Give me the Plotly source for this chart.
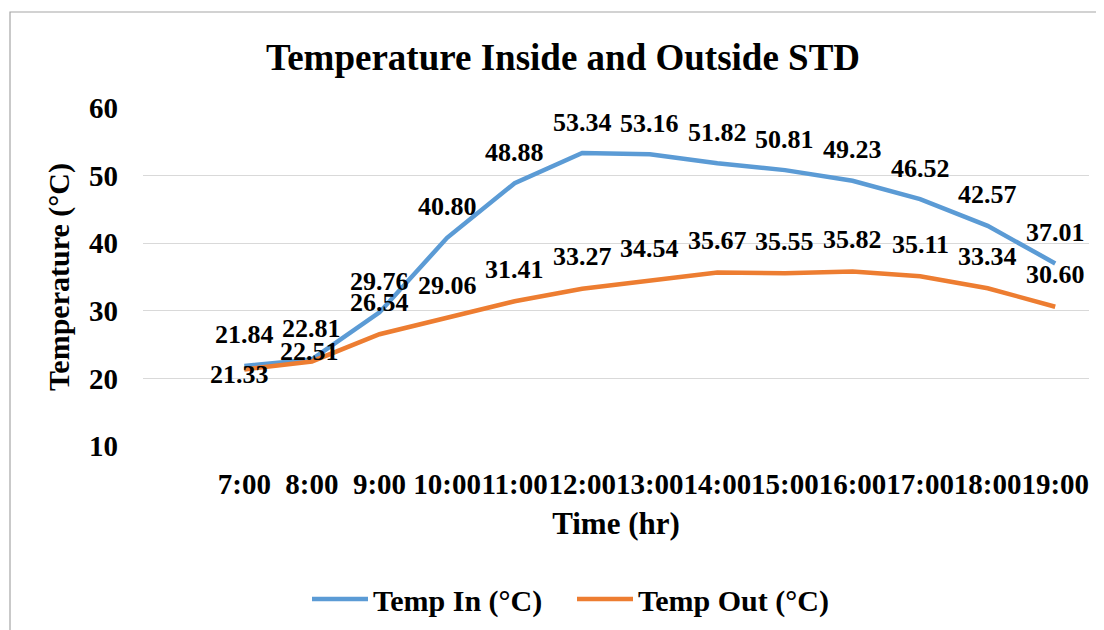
import plotly.graph_objects as go

times = ["7:00", "8:00", "9:00", "10:00", "11:00", "12:00", "13:00",
         "14:00", "15:00", "16:00", "17:00", "18:00", "19:00"]
temp_in = [21.84, 22.81, 29.76, 40.80, 48.88, 53.34, 53.16, 51.82, 50.81, 49.23, 46.52, 42.57, 37.01]
temp_out = [21.33, 22.51, 26.54, 29.06, 31.41, 33.27, 34.54, 35.67, 35.55, 35.82, 35.11, 33.34, 30.60]
y_ticks = [10, 20, 30, 40, 50, 60]

# category positions (first slot on the axis is empty in the original chart)
xpos = list(range(1, len(times) + 1))

FONT = "Liberation Serif, Times New Roman, serif"
BLUE = "#5B9BD5"
ORANGE = "#ED7D31"

# page has an 8px body margin; figure is sized to fill the rest of the window
W, H = 1096, 622
OFF = 8

fig = go.Figure()
fig.add_trace(go.Scatter(x=xpos, y=temp_in, mode="lines", name="Temp In (°C)",
                         line=dict(color=BLUE, width=4.5)))
fig.add_trace(go.Scatter(x=xpos, y=temp_out, mode="lines", name="Temp Out (°C)",
                         line=dict(color=ORANGE, width=4.5)))

annotations = []
for i, (xv, v) in enumerate(zip(xpos, temp_in)):
    annotations.append(dict(x=xv, y=v, xref="x", yref="y", text=f"{v:.2f}",
                            showarrow=False, yshift=31,
                            font=dict(family=FONT, size=26, color="black", weight="bold")))
out_shift = [-5, 10] + [32] * (len(temp_out) - 2)
out_xshift = [-5, -2] + [0] * (len(temp_out) - 2)
for i, (xv, v) in enumerate(zip(xpos, temp_out)):
    annotations.append(dict(x=xv, y=v, xref="x", yref="y", text=f"{v:.2f}",
                            showarrow=False, yshift=out_shift[i], xshift=out_xshift[i],
                            font=dict(family=FONT, size=26, color="black", weight="bold")))

fig.update_layout(
    width=W, height=H,
    margin=dict(l=143 - OFF, r=15, t=108 - OFF, b=184, autoexpand=False),
    paper_bgcolor="white", plot_bgcolor="white",
    font=dict(family=FONT, color="black"),
    title=dict(text="Temperature Inside and Outside STD", x=(563 - OFF) / W, xref="container",
               y=1 - (57 - OFF) / H, yref="container", xanchor="center", yanchor="middle",
               font=dict(family=FONT, size=37, color="black", weight="bold")),
    showlegend=True,
    legend=dict(orientation="h", x=(307 - 143) / 946, xanchor="left",
                y=-0.453, yanchor="middle",
                font=dict(family=FONT, size=30, color="black", weight="bold"),
                itemwidth=56, tracegroupgap=0, entrywidth=194),
    annotations=annotations,
    shapes=[dict(type="rect", xref="paper", yref="paper",
                 x0=(10 - 143) / 946, x1=(1102 - 143) / 946,
                 y0=(446 - 640) / 338, y1=(446 - 12) / 338,
                 line=dict(color="#A6A6A6", width=1.2), fillcolor="rgba(0,0,0,0)",
                 layer="below")],
)

fig.update_xaxes(range=[-0.5, len(times) + 0.5], tickvals=xpos, ticktext=times,
                 tickangle=0, showgrid=False, zeroline=False, showline=False, ticks="",
                 ticklabelstandoff=18,
                 tickfont=dict(family=FONT, size=29, color="black", weight="bold"),
                 title=dict(text="Time (hr)", standoff=13,
                            font=dict(family=FONT, size=31, color="black", weight="bold")))
fig.update_yaxes(range=[10, 60], tickvals=y_ticks, showgrid=True, gridcolor="#D9D9D9",
                 gridwidth=1.3, zeroline=False, showline=False, ticks="",
                 ticklabelstandoff=24,
                 tickfont=dict(family=FONT, size=29, color="black", weight="bold"),
                 title=dict(text="Temperature (°C)", standoff=10,
                            font=dict(family=FONT, size=30, color="black", weight="bold")))

fig.write_html("out.html")
